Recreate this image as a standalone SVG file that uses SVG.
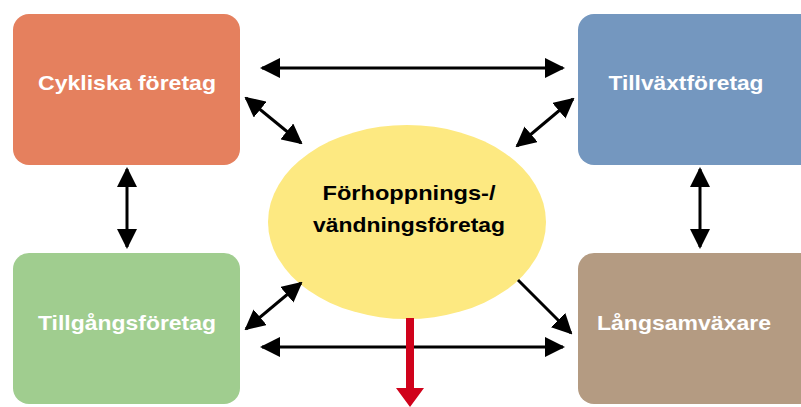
<svg xmlns="http://www.w3.org/2000/svg" width="801" height="407" viewBox="0 0 801 407">
<style>
.box{stroke:none}
.lbl{font-family:"Liberation Sans",Arial,sans-serif;font-weight:bold;font-size:21px;fill:#fff;text-anchor:middle}
.dark{fill:#000}
.con{stroke:#000;stroke-width:3;fill:none}
</style>
<defs>
<marker id="ah" viewBox="0 0 10 10" refX="9" refY="5" markerWidth="6.8" markerHeight="6.8" orient="auto-start-reverse" markerUnits="strokeWidth">
<path d="M0,0 L10,5 L0,10 Z" fill="#000"/>
</marker>
</defs>
<rect width="801" height="407" fill="#fff"/>
<g id="node-cykliska">
<rect class="box" x="13" y="14" width="227" height="151" rx="16" fill="#E5805E"/>
<text class="lbl" x="127" y="90" textLength="178" lengthAdjust="spacingAndGlyphs">Cykliska företag</text>
</g>
<g id="node-tillvaxt">
<rect class="box" x="578" y="14" width="240" height="151" rx="16" fill="#7497BF"/>
<text class="lbl" x="686" y="90" textLength="155" lengthAdjust="spacingAndGlyphs">Tillväxtföretag</text>
</g>
<g id="node-tillgang">
<rect class="box" x="13" y="253" width="227" height="151" rx="16" fill="#A0CD8F"/>
<text class="lbl" x="127" y="330" textLength="178" lengthAdjust="spacingAndGlyphs">Tillgångsföretag</text>
</g>
<g id="node-langsam">
<rect class="box" x="578" y="253" width="240" height="151" rx="16" fill="#B49B82"/>
<text class="lbl" x="684" y="330" textLength="174" lengthAdjust="spacingAndGlyphs">Långsamväxare</text>
</g>
<g id="node-forhoppning">
<ellipse cx="407" cy="222" rx="139" ry="97" fill="#FDE981"/>
<text class="lbl dark" x="409" y="200" textLength="173" lengthAdjust="spacingAndGlyphs">Förhoppnings-/</text>
<text class="lbl dark" x="409" y="232" textLength="192" lengthAdjust="spacingAndGlyphs">vändningsföretag</text>
</g>
<g id="connectors">
<line class="con" x1="262" y1="68" x2="563" y2="68" marker-start="url(#ah)" marker-end="url(#ah)"/>
<line class="con" x1="262" y1="347" x2="563" y2="347" marker-start="url(#ah)" marker-end="url(#ah)"/>
<line class="con" x1="127" y1="169" x2="127" y2="247" marker-start="url(#ah)" marker-end="url(#ah)"/>
<line class="con" x1="700" y1="169" x2="700" y2="247" marker-start="url(#ah)" marker-end="url(#ah)"/>
<line class="con" x1="246" y1="98" x2="301" y2="143" marker-start="url(#ah)" marker-end="url(#ah)"/>
<line class="con" x1="573" y1="99" x2="517" y2="146" marker-start="url(#ah)" marker-end="url(#ah)"/>
<line class="con" x1="301" y1="283" x2="246" y2="329" marker-start="url(#ah)" marker-end="url(#ah)"/>
<line class="con" x1="518" y1="280" x2="571" y2="333" marker-end="url(#ah)"/>
<path d="M406,318 L414,318 L414,388 L424,388 L410,407 L396,388 L406,388 Z" fill="#D0021B"/>
</g>
</svg>
